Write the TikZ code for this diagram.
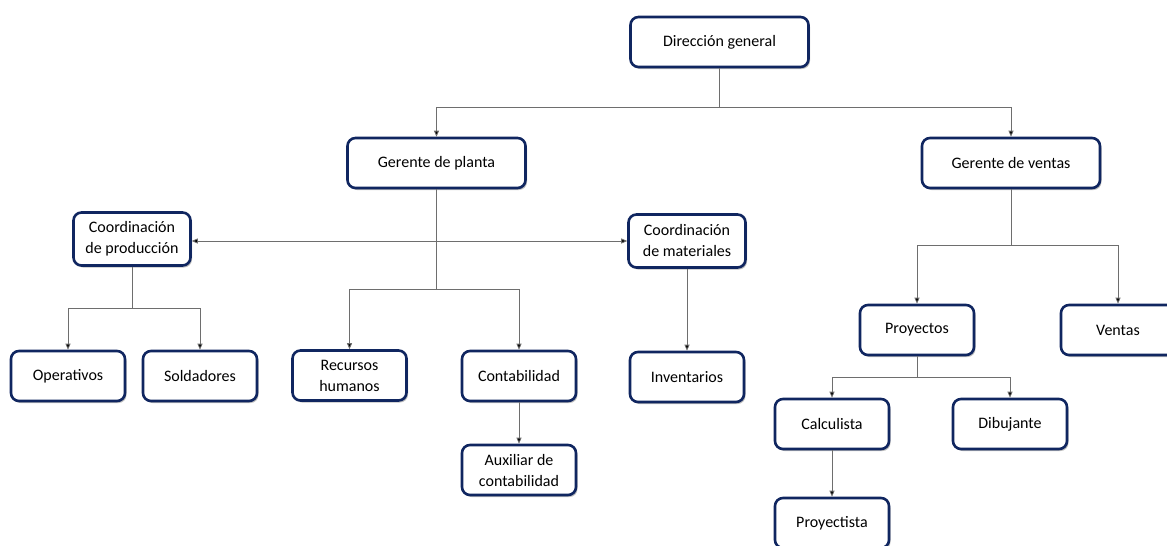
\documentclass[tikz,border=0pt]{standalone}
\usepackage{fontspec}
\setmainfont{Carlito}
\usetikzlibrary{arrows.meta,shadows}
\definecolor{boxline}{RGB}{16,38,96}
\definecolor{wire}{RGB}{110,110,110}
\tikzset{
  unit/.style={draw=boxline, line width=2.6pt, rounded corners=8pt, fill=white,
    align=center, inner sep=0pt, font=\fontsize{16}{21}\selectfont,
    drop shadow={shadow xshift=1.5pt, shadow yshift=-2pt, opacity=0.25, fill=black}},
  wide/.style={unit, minimum width=178pt, minimum height=50pt},
  std/.style={unit, minimum width=114pt, minimum height=50pt},
  coord/.style={unit, minimum width=117pt, minimum height=53pt},
  link/.style={draw=wire, line width=0.8pt},
  arr/.style={link, -{Triangle[length=6pt,width=5pt,fill=black]}},
  arrboth/.style={link, {Triangle[length=6pt,width=5pt,fill=black]}-{Triangle[length=6pt,width=5pt,fill=black]}}
}
\begin{document}
\begin{tikzpicture}[x=1pt, y=-1pt]
\useasboundingbox (0,0) rectangle (1167,546);

% units
\node[wide]  (dir) at (719.5,42)  {Dirección general};
\node[wide]  (gp)  at (436.5,163) {Gerente de planta};
\node[wide]  (gv)  at (1011,163)  {Gerente de ventas};
\node[coord] (cp)  at (132,239)   {Coordinación\\de producción};
\node[coord] (cm)  at (687,241)   {Coordinación\\de materiales};
\node[std]   (op)  at (68,376)    {Operativos};
\node[std]   (so)  at (200,376)   {Soldadores};
\node[std]   (rh)  at (349.5,375.5) {Recursos\\humanos};
\node[std]   (co)  at (519,376)   {Contabilidad};
\node[std]   (ax)  at (519,470)   {Auxiliar de\\contabilidad};
\node[std]   (in)  at (687,377)   {Inventarios};
\node[std]   (pr)  at (917,330)   {Proyectos};
\node[std]   (ve)  at (1118,330)  {Ventas};
\node[std]   (ca)  at (832,424)   {Calculista};
\node[std]   (di)  at (1010,424)  {Dibujante};
\node[std]   (py)  at (832,523)   {Proyectista};

% junction points of the branches
\coordinate (jdir) at (719.5,107);
\coordinate (jgp)  at (436.5,289);
\coordinate (jcp)  at (132,308);
\coordinate (jgv)  at (1011,245);
\coordinate (jpr)  at (917,377);

% direction general
\draw[link] (dir.south) -- (jdir);
\draw[arr]  (jdir) -| (gp.north);
\draw[arr]  (jdir) -| (gv.north);

% plant manager
\draw[link] (gp.south) -- (jgp);
\draw[arr]  (jgp) -| (rh.north);
\draw[arr]  (jgp) -| (co.north);
\draw[arrboth] (cp.east |- cm.west) -- (cm.west);
\draw[arr]  (co.south) -- (ax.north);
\draw[arr]  (cm.south) -- (in.north);

% production coordination
\draw[link] (cp.south) -- (jcp);
\draw[arr]  (jcp) -| (op.north);
\draw[arr]  (jcp) -| (so.north);

% sales manager
\draw[link] (gv.south) -- (jgv);
\draw[arr]  (jgv) -| (pr.north);
\draw[arr]  (jgv) -| (ve.north);

% projects
\draw[link] (pr.south) -- (jpr);
\draw[arr]  (jpr) -| (ca.north);
\draw[arr]  (jpr) -| (di.north);
\draw[arr]  (ca.south) -- (py.north);
\end{tikzpicture}
\end{document}
